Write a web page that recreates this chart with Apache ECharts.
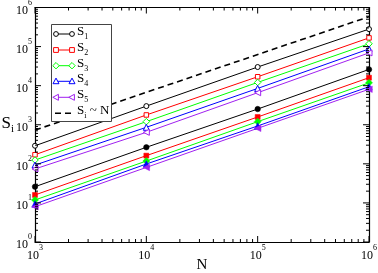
<!DOCTYPE html>
<html><head><meta charset="utf-8">
<script src="https://cdn.jsdelivr.net/npm/echarts@6/dist/echarts.min.js"></script>
<style>html,body{margin:0;padding:0;background:#fff}#c{width:378px;height:273px}</style>
</head><body><div id="c"></div>
<script>
// ---- data ----
const N = [1e3, 1e4, 1e5, 1e6];
const names = ['1', '2', '3', '4', '5'];
const openS1 = [290, 3000, 30000, 280000];
const openS2 = [171, 1780, 16900, 167000];
const openS3 = [125, 1200, 12100, 118000];
const openS4 = [93, 860, 8500, 87000];
const openS5 = [74, 640, 6600, 69000];
const filledS1 = [26, 265, 2520, 26000];
const filledS2 = [16, 162, 1580, 16000];
const filledS3 = [11.9, 118, 1200, 11800];
const filledS4 = [9.4, 99, 930, 9400];
const filledS5 = [8, 81, 810, 8100];
const guideN = [1e3, 1e6];
const guideS = [730, 580000];
const xTicks = [1e3, 1e4, 1e5, 1e6];
const yTicks = [1e0, 1e1, 1e2, 1e3, 1e4, 1e5, 1e6];

// ---- styles ----
const colors = ['#000000', '#ff0000', '#00ff00', '#0000ff', '#a020f0'];
const symbols = ['circle', 'rect', 'diamond', 'triangle', 'triangle'];
const symSizes = [5, 4.5, 6.5, 6, 6];
const symRot = [0, 0, 0, 0, 90];
const openSets = [openS1, openS2, openS3, openS4, openS5];
const filledSets = [filledS1, filledS2, filledS3, filledS4, filledS5];
const serif = '"Liberation Serif","DejaVu Serif",serif';

const pairs = arr => N.map((n, i) => [n, arr[i]]);
const series = [];
openSets.forEach((d, k) => {
  series.push({
    type: 'line', name: 'S' + names[k], data: pairs(d),
    symbol: symbols[k], symbolSize: symSizes[k], symbolRotate: symRot[k],
    lineStyle: {color: colors[k], width: 1},
    itemStyle: {color: '#fff', borderColor: colors[k], borderWidth: 1},
    z: 3
  });
});
filledSets.forEach((d, k) => {
  series.push({
    type: 'line', name: 'F' + names[k], data: pairs(d),
    symbol: symbols[k], symbolSize: symSizes[k] + 0.5, symbolRotate: symRot[k],
    lineStyle: {color: colors[k], width: 1},
    itemStyle: {color: colors[k], borderColor: colors[k], borderWidth: 0.5},
    z: 3
  });
});
series.push({
  type: 'line', name: 'guide', data: guideN.map((n, i) => [n, guideS[i]]),
  symbol: 'none', lineStyle: {color: '#000', width: 1.6, type: [6, 4]}, z: 2
});

// ---- minor ticks via custom series (log-spaced 2..9) ----
function minorVals(lo, hi) {
  const out = [];
  for (let e = Math.round(Math.log10(lo)); e < Math.round(Math.log10(hi)); e++)
    for (let m = 2; m <= 9; m++) out.push(m * Math.pow(10, e));
  return out;
}
const xMinor = minorVals(1e3, 1e6);
const yMinor = minorVals(1e0, 1e6);
// rows: [xValue, yValue, tickLength, isYTick]
const tickData = [];
xTicks.forEach(v => tickData.push([v, 10, 6, 0]));
xMinor.forEach(v => tickData.push([v, 10, 3, 0]));
yTicks.forEach(v => tickData.push([1e4, v, 6, 1]));
yMinor.forEach(v => tickData.push([1e4, v, 3, 1]));
series.push({
  type: 'custom', silent: true, z: 5, clip: false,
  data: tickData,
  renderItem: function (params, api) {
    const len = api.value(2), isY = api.value(3) === 1;
    const p = api.coord([api.value(0), api.value(1)]);
    const cs = params.coordSys;
    let segs;
    if (!isY) {
      const b = cs.y + cs.height, t = cs.y;
      segs = [[p[0], b, p[0], b - len], [p[0], t, p[0], t + len]];
    } else {
      const l = cs.x, r = cs.x + cs.width;
      segs = [[l, p[1], l + len, p[1]], [r, p[1], r - len, p[1]]];
    }
    return {type: 'group', children: segs.map(s => ({
      type: 'line', shape: {x1: s[0], y1: s[1], x2: s[2], y2: s[3]},
      style: {stroke: '#000', lineWidth: 1}
    }))};
  }
});

// ---- legend (graphic) ----
function legendSymbol(sym, rot, cx, cy, color) {
  const st = {fill: '#fff', stroke: color, lineWidth: 1};
  const r = 2.4;
  if (sym === 'circle') return {type: 'circle', shape: {cx, cy, r}, style: st};
  if (sym === 'rect') return {type: 'rect', shape: {x: cx - r, y: cy - r, width: 2 * r, height: 2 * r}, style: st};
  if (sym === 'diamond') return {type: 'polygon', shape: {points: [[cx, cy - 3.2], [cx + 3.2, cy], [cx, cy + 3.2], [cx - 3.2, cy]]}, style: st};
  if (rot === 0) return {type: 'polygon', shape: {points: [[cx, cy - 3.2], [cx + 3, cy + 2.4], [cx - 3, cy + 2.4]]}, style: st};
  return {type: 'polygon', shape: {points: [[cx - 3.2, cy], [cx + 2.4, cy - 3], [cx + 2.4, cy + 3]]}, style: st};
}
const rich = {
  s: {fontFamily: serif, fontSize: 13, color: '#000', lineHeight: 16, verticalAlign: 'top'},
  sub: {fontFamily: serif, fontSize: 8, color: '#000', lineHeight: 16, verticalAlign: 'bottom'}
};
const lg = [];
lg.push({type: 'rect', shape: {x: 51.5, y: 24.5, width: 60, height: 97}, style: {fill: '#fff', stroke: '#444', lineWidth: 1}});
const rowY = [34, 50, 65.7, 81.3, 97.3, 113.3];
for (let k = 0; k < 5; k++) {
  const y = rowY[k];
  lg.push({type: 'line', shape: {x1: 56, y1: y, x2: 72, y2: y}, style: {stroke: colors[k], lineWidth: 1}});
  lg.push(legendSymbol(symbols[k], symRot[k], 56, y, colors[k]));
  lg.push(legendSymbol(symbols[k], symRot[k], 72, y, colors[k]));
  lg.push({type: 'text', x: 77, y: y - 9, style: {text: '{s|S}{sub|' + names[k] + '}', rich: rich}});
}
lg.push({type: 'line', shape: {x1: 55, y1: rowY[5], x2: 73, y2: rowY[5]}, style: {stroke: '#000', lineWidth: 1.6, lineDash: [6, 4]}});
lg.push({type: 'text', x: 77, y: rowY[5] - 9, style: {text: '{s|S}{sub|i}{s| ~ N}', rich: rich}});

// ---- axes ----
const expLabel = v => '{b|10}{e|' + Math.round(Math.log10(v)) + '}';
const labelRich = {
  b: {fontFamily: serif, fontSize: 12, color: '#000', lineHeight: 18, verticalAlign: 'bottom'},
  e: {fontFamily: serif, fontSize: 8, color: '#000', lineHeight: 10, verticalAlign: 'top'}
};
const axisCommon = {
  type: 'log', logBase: 10,
  axisLine: {show: true, lineStyle: {color: '#000', width: 1.2}},
  axisTick: {show: false},
  minorTick: {show: false},
  splitLine: {show: false},
  nameMoveOverlap: false
};
const option = {
  animation: false,
  backgroundColor: '#fff',
  grid: {left: 35, right: 9, top: 7.5, bottom: 31, containLabel: false, outerBoundsMode: 'none'},
  xAxis: [
    Object.assign({}, axisCommon, {
      min: 1e3, max: 1e6, splitNumber: 3, position: 'bottom',
      axisLabel: {formatter: expLabel, rich: labelRich, margin: 2, hideOverlap: false},
      name: 'N', nameLocation: 'middle', nameGap: 16,
      nameTextStyle: {fontFamily: serif, fontSize: 15, color: '#000', verticalAlign: 'top'}
    }),
    Object.assign({}, axisCommon, {min: 1e3, max: 1e6, splitNumber: 3, position: 'top', axisLabel: {show: false}})
  ],
  yAxis: [
    Object.assign({}, axisCommon, {
      min: 1, max: 1e6, splitNumber: 6, position: 'left',
      axisLabel: {formatter: expLabel, rich: labelRich, margin: 3, hideOverlap: false},
      name: '{s|S}{i|i}', nameLocation: 'middle', nameRotate: 0, nameGap: 21,
      nameTextStyle: {align: 'right', rich: {
        s: {fontFamily: serif, fontSize: 17, color: '#000', lineHeight: 20, verticalAlign: 'top'},
        i: {fontFamily: serif, fontSize: 11, color: '#000', lineHeight: 20, verticalAlign: 'bottom'}
      }}
    }),
    Object.assign({}, axisCommon, {min: 1, max: 1e6, splitNumber: 6, position: 'right', axisLabel: {show: false}})
  ],
  graphic: lg.map(e => Object.assign({z: 100}, e)),
  series: series
};
const chart = echarts.init(document.getElementById('c'), null, {renderer: 'canvas'});
chart.setOption(option);
</script></body></html>
